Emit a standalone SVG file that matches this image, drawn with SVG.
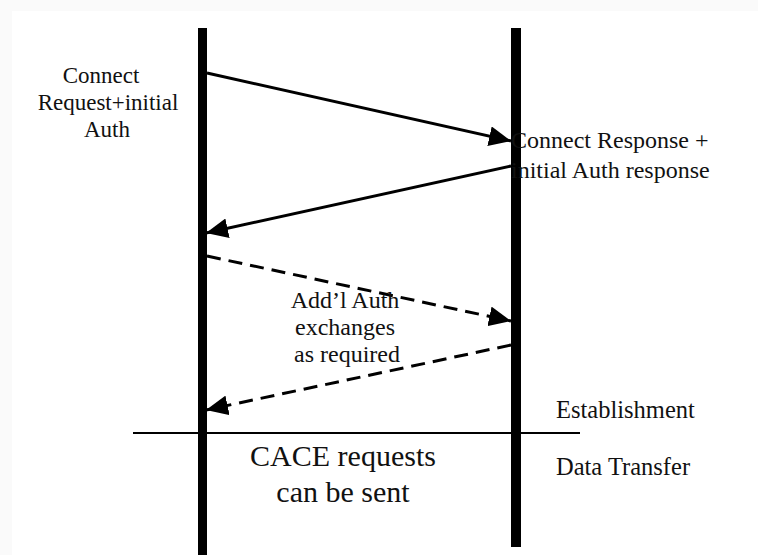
<svg xmlns="http://www.w3.org/2000/svg" width="758" height="555" viewBox="0 0 758 555">
  <defs>
    <style>
      .s { font-size: 24px; }
      .m { font-size: 23px; }
      .p { font-size: 24.5px; }
      .l { font-size: 30px; }
      .msg { stroke: #000; stroke-width: 3; fill: none; }
      .dash { stroke-dasharray: 14 8; }
      .life { fill: #000; }
    </style>
    <marker id="head" markerUnits="userSpaceOnUse" markerWidth="24" markerHeight="20" refX="22" refY="10" orient="auto">
      <path d="M0,0 L22,10 L0,20 Z" fill="#000" stroke="none"/>
    </marker>
  </defs>

  <!-- page background with faint margin -->
  <rect x="0" y="0" width="758" height="555" fill="#fafafa"/>
  <rect x="12" y="11" width="746" height="544" fill="#fff"/>

  <!-- lifelines -->
  <g id="client">
    <rect class="life" x="198" y="28" width="9" height="527"/>
  </g>
  <g id="server">
    <rect class="life" x="511" y="28" width="10" height="519"/>
  </g>

  <!-- phase separator -->
  <g id="separator">
    <line x1="133" y1="433" x2="580" y2="433" stroke="#000" stroke-width="2"/>
  </g>

  <!-- messages -->
  <g id="connectors">
    <line class="msg" x1="207" y1="73" x2="511" y2="141" marker-end="url(#head)"/>
    <line class="msg" x1="511" y1="166" x2="206" y2="233" marker-end="url(#head)"/>
    <line class="msg dash" x1="207" y1="256" x2="511" y2="321" marker-end="url(#head)"/>
    <line class="msg dash" x1="511" y1="345" x2="206" y2="410" marker-end="url(#head)"/>
  </g>

  <!-- labels -->
  <g font-family="Liberation Serif, Times New Roman, serif" fill="#111">
    <g id="connect-request">
      <text class="m" x="101" y="83" text-anchor="middle">Connect</text>
      <text class="m" x="108" y="110" text-anchor="middle">Request+initial</text>
      <text class="m" x="107" y="137" text-anchor="middle">Auth</text>
    </g>
    <g id="connect-response">
      <text class="s" x="511" y="148">Connect Response +</text>
      <text class="s" x="511" y="178">initial Auth response</text>
    </g>
    <g id="auth-exchanges">
      <text class="s" x="345" y="308" text-anchor="middle">Add’l Auth</text>
      <text class="s" x="345" y="335" text-anchor="middle">exchanges</text>
      <text class="s" x="347" y="362" text-anchor="middle">as required</text>
    </g>
    <g id="phases">
      <text class="p" x="556" y="418">Establishment</text>
      <text class="p" x="556" y="475">Data Transfer</text>
    </g>
    <g id="cace">
      <text class="l" x="343" y="466" text-anchor="middle">CACE requests</text>
      <text class="l" x="343" y="502" text-anchor="middle">can be sent</text>
    </g>
  </g>
</svg>
